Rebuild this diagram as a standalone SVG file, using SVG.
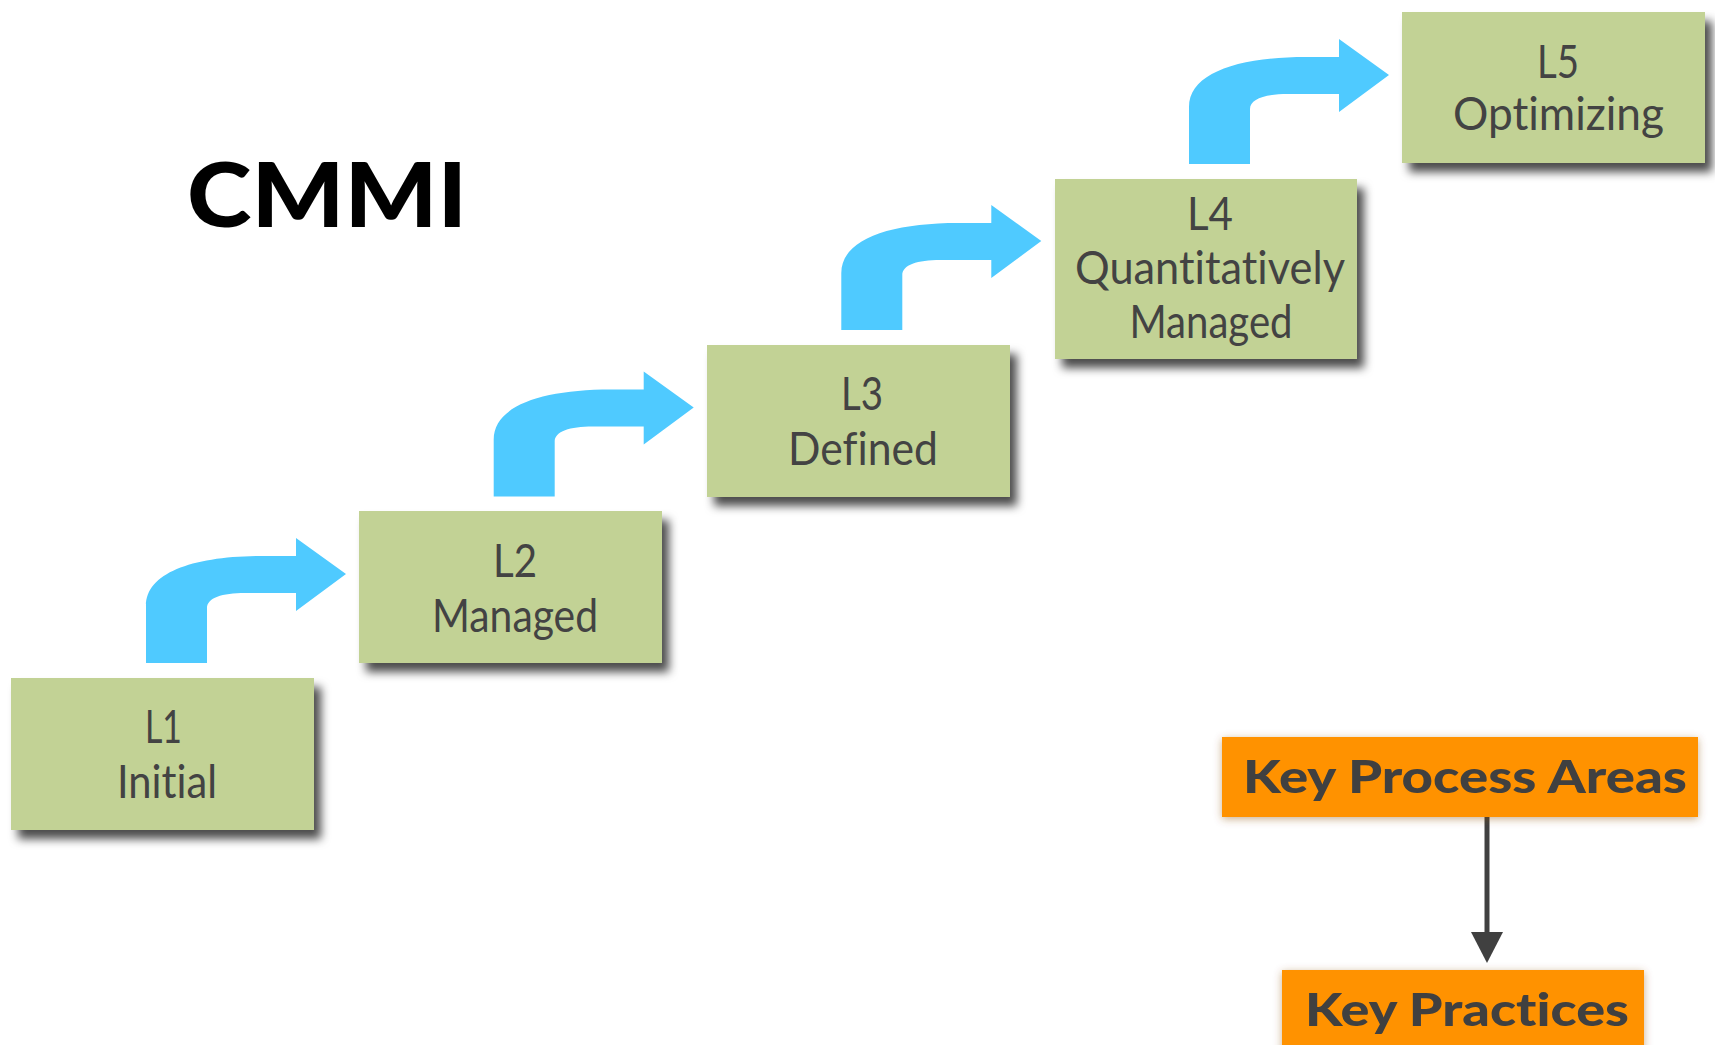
<svg xmlns="http://www.w3.org/2000/svg" width="1715" height="1045" viewBox="0 0 1715 1045">
<defs>
<style>
.box{fill:#c2d295;filter:url(#sh);}
.lvl{font-family:Lato,"Open Sans","Liberation Sans",sans-serif;font-size:46px;fill:#434343;text-anchor:middle;font-variant-ligatures:none;}
.kbox{fill:#ff9200;filter:url(#glow);}
.key{font-family:Lato,"Liberation Sans",sans-serif;font-weight:900;font-size:45px;fill:#404040;text-anchor:middle;font-variant-ligatures:none;}
.step{fill:#4fcaff;}
</style>
<filter id="sh" x="-10%" y="-10%" width="130%" height="140%">
<feDropShadow dx="7" dy="9" stdDeviation="5" flood-color="#000" flood-opacity="0.7"/>
</filter>
<filter id="glow" x="-10%" y="-20%" width="120%" height="150%">
<feDropShadow dx="0" dy="2" stdDeviation="4" flood-color="#8a4a00" flood-opacity="0.45"/>
</filter>
<path id="stepArrow" class="step" d="M146,663 L146,606 C146,572 195,556 263,556 L296,556 L296,538 L346,574 L296,611 L296,593 L245,593 C222,593 207,598 207,608 L207,663 Z"/>
</defs>
<rect width="1715" height="1045" fill="#fff"/>

<g id="title">
<text x="327" y="227" font-family="Lato,'Liberation Sans',sans-serif" font-weight="900" font-size="90" fill="#000" text-anchor="middle" textLength="280" lengthAdjust="spacingAndGlyphs">CMMI</text>
</g>

<g id="connectors">
<use href="#stepArrow"/>
<use href="#stepArrow" transform="translate(347.7,-166.5)"/>
<use href="#stepArrow" transform="translate(695.3,-333)"/>
<use href="#stepArrow" transform="translate(1043,-499)"/>
<line x1="1487" y1="817" x2="1487" y2="934" stroke="#404040" stroke-width="5"/>
<polygon points="1471,932 1503,932 1487,963" fill="#404040"/>
</g>

<g id="L1">
<rect class="box" x="11" y="678" width="303" height="152"/>
<text class="lvl" x="163.5" y="743" textLength="37" lengthAdjust="spacingAndGlyphs">L1</text>
<text class="lvl" x="167" y="798" textLength="100" lengthAdjust="spacingAndGlyphs">Initial</text>
</g>
<g id="L2">
<rect class="box" x="359" y="511" width="303" height="152"/>
<text class="lvl" x="515" y="577" textLength="44" lengthAdjust="spacingAndGlyphs">L2</text>
<text class="lvl" x="515" y="632" textLength="166" lengthAdjust="spacingAndGlyphs">Managed</text>
</g>
<g id="L3">
<rect class="box" x="707" y="345" width="303" height="152"/>
<text class="lvl" x="862" y="410" textLength="42" lengthAdjust="spacingAndGlyphs">L3</text>
<text class="lvl" x="863" y="465" textLength="150" lengthAdjust="spacingAndGlyphs">Defined</text>
</g>
<g id="L4">
<rect class="box" x="1055" y="179" width="302" height="180"/>
<text class="lvl" x="1210" y="230" textLength="46" lengthAdjust="spacingAndGlyphs">L4</text>
<text class="lvl" x="1210" y="284" textLength="270" lengthAdjust="spacingAndGlyphs">Quantitatively</text>
<text class="lvl" x="1211" y="338" textLength="163" lengthAdjust="spacingAndGlyphs">Managed</text>
</g>
<g id="L5">
<rect class="box" x="1402" y="12" width="303" height="151"/>
<text class="lvl" x="1558" y="78" textLength="42" lengthAdjust="spacingAndGlyphs">L5</text>
<text class="lvl" x="1558.5" y="130" textLength="211" lengthAdjust="spacingAndGlyphs">Optimizing</text>
</g>

<g id="kpa">
<rect class="kbox" x="1222" y="737" width="476" height="80"/>
<text class="key" x="1465" y="793" textLength="444" lengthAdjust="spacingAndGlyphs">Key Process Areas</text>
</g>
<g id="kp">
<rect class="kbox" x="1282" y="970" width="362" height="90"/>
<text class="key" x="1467" y="1026" textLength="324" lengthAdjust="spacingAndGlyphs">Key Practices</text>
</g>
</svg>
